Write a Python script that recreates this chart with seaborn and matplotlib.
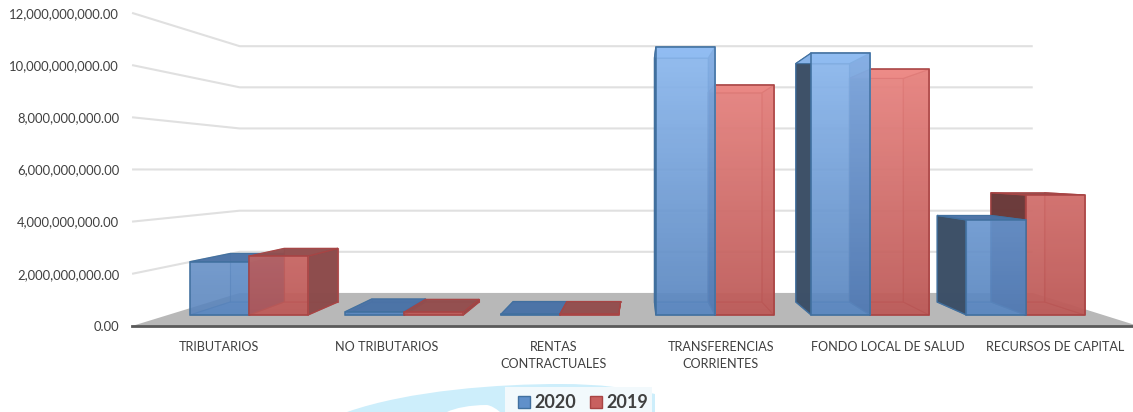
import numpy as np
import pandas as pd
import matplotlib
matplotlib.use("Agg")
import matplotlib.pyplot as plt
import seaborn as sns
from matplotlib.colors import LinearSegmentedColormap
from matplotlib.patches import PathPatch, Rectangle
from matplotlib.path import Path

# datos
categorias = ["TRIBUTARIOS", "NO TRIBUTARIOS", "RENTAS CONTRACTUALES",
              "TRANSFERENCIAS CORRIENTES", "FONDO LOCAL DE SALUD", "RECURSOS DE CAPITAL"]
etiquetas = ["TRIBUTARIOS", "NO TRIBUTARIOS", "RENTAS\nCONTRACTUALES",
             "TRANSFERENCIAS\nCORRIENTES", "FONDO LOCAL DE SALUD", "RECURSOS DE CAPITAL"]
valores_2020 = [2.20e9, 0.14e9, 0.02e9, 11.05e9, 10.80e9, 3.92e9]
valores_2019 = [2.43e9, 0.12e9, 0.02e9, 9.48e9, 10.13e9, 4.95e9]
anios = ["2020", "2019"]
marcas_y = [0, 2e9, 4e9, 6e9, 8e9, 10e9, 12e9]

# geometria: plano frontal de las barras en pixeles de la figura
W, H = 1133, 412
PX_X0, PX_CAT = 249.0, 155.3     # pixel de la categoria 0 y ancho de categoria
PX_Y0, PX_BN = 315.0, 24.25      # pixel del valor 0 y pixeles por 1e9
AX_LEFT, AX_BOTTOM = 124, 326

# punto de fuga y profundidades relativas al plano frontal
XV = (640 - PX_X0) / PX_CAT
VV = (PX_Y0 - 170) / PX_BN * 1e9
S_PISO = 1.076    # borde delantero del piso
S_FONDO = 0.848   # pared del fondo
S_BARRA = 0.91    # cara trasera de las barras
X_IZQ, X_DER = -0.522, 5.50


def proyectar(x, v, s):
    return XV + (np.asarray(x, float) - XV) * s, VV + (np.asarray(v, float) - VV) * s


sns.set_theme(style="white")
plt.rcParams["font.family"] = ["Lato", "DejaVu Sans"]

df = pd.DataFrame({
    "categoria": categorias * 2,
    "anio": [anios[0]] * 6 + [anios[1]] * 6,
    "valor": valores_2020 + valores_2019,
})

fig = plt.figure(figsize=(W / 100, H / 100), dpi=100)
ax = fig.add_axes([AX_LEFT / W, (H - AX_BOTTOM) / H, (W - AX_LEFT) / W, AX_BOTTOM / H])
ax.patch.set_alpha(0)

colores = {"2020": "#6090CA", "2019": "#C8605F"}
sns.barplot(data=df, x="categoria", y="valor", hue="anio", hue_order=anios,
            order=categorias, palette=colores, width=0.76, gap=0, saturation=1,
            ax=ax, errorbar=None)

# estilos de cada serie
estilo = {
    "2020": {"borde": "#41709F", "lado_ext": "#3C4F66", "lado_der": "#34568F", "lado_int": "#34568F", "a_int": 0.8,
             "techo_bajo": "#4A72A6", "techo_alto": "#8DB9F0", "fondo": "#5F8CC4", "a_fondo": 0.6,
             "grad": ["#5A86BF", "#92BEF4"]},
    "2019": {"borde": "#A84444", "lado_ext": "#6A3A3A", "lado_der": "#8A4A4A", "lado_int": "#C46462", "a_int": 0.8,
             "techo_bajo": "#924E4E", "techo_alto": "#EE8E8A", "fondo": "#C46462", "a_fondo": 0.7,
             "grad": ["#BC5A58", "#F28E8A"]},
}
VMAX = max(valores_2020)

# piso y rejilla
px, py = proyectar([X_IZQ, X_DER, X_DER, X_IZQ], [0, 0, 0, 0], [S_PISO, S_PISO, S_FONDO, S_FONDO])
ax.fill(px, py, color="#B8B8B8", lw=0, zorder=1)
for m in marcas_y[1:]:
    gx, gy = proyectar([X_IZQ, X_IZQ, X_DER], [m, m, m], [S_PISO, S_FONDO, S_FONDO])
    ax.plot(gx, gy, color="#E0E0E0", lw=1.5, zorder=0.5, solid_capstyle="butt")

# caras de cada barra, de la mas lejana al punto de fuga a la mas cercana
barras = []
for anio, cont in zip(anios, ax.containers):
    for b in cont:
        barras.append((anio, b))
barras.sort(key=lambda t: -abs(t[1].get_x() + t[1].get_width() / 2 - XV))

for n, (anio, b) in enumerate(barras):
    e = estilo[anio]
    z = 2 + n
    x0, x1, v = b.get_x(), b.get_x() + b.get_width(), b.get_height()

    def cara(xs, vs, ss, color, alpha=1.0, lw=0.8):
        fx, fy = proyectar(xs, vs, ss)
        ax.fill(fx, fy, facecolor=color, edgecolor=e["borde"], alpha=alpha, lw=lw, zorder=z)

    S1, S2 = 1.0, S_BARRA
    cara([x0, x1, x1, x0], [v, v, 0, 0], S2, e["fondo"], e["a_fondo"])
    cara([x0, x1, x1, x0], [0, 0, 0, 0], [S1, S1, S2, S2], e["fondo"], 0.75)
    # cara lateral exterior oscura, la interior queda bajo el frente
    if x0 > XV:
        cara([x0, x0, x0, x0], [0, v, v, 0], [S1, S1, S2, S2], e["lado_ext"], 0.98, 1.0)
        cara([x1, x1, x1, x1], [0, v, v, 0], [S1, S1, S2, S2], e["lado_int"], e["a_int"])
    else:
        cara([x1, x1, x1, x1], [0, v, v, 0], [S1, S1, S2, S2], e["lado_der"], 0.95, 1.0)
        cara([x0, x0, x0, x0], [0, v, v, 0], [S1, S1, S2, S2], e["lado_der"], 0.3)
    techo = e["techo_alto"] if v > VV else e["techo_bajo"]
    cara([x0, x1, x1, x0], [v, v, v, v], [S1, S1, S2, S2], techo, 0.95)

    # frente con degradado recortado a la barra
    cmap = LinearSegmentedColormap.from_list("g" + anio, e["grad"])
    im = ax.imshow(np.linspace(1, 0, 128)[:, None], cmap=cmap, vmin=0, vmax=1,
                   extent=(x0, x1, 0, VMAX), aspect="auto", alpha=0.82, zorder=z + 0.1)
    im.set_clip_path(Rectangle((x0, 0), x1 - x0, v, transform=ax.transData))
    b.set_facecolor("none")
    b.set_edgecolor(e["borde"])
    b.set_linewidth(1.1)
    b.set_zorder(z + 0.2)

# ejes
ax.set_xlim((AX_LEFT - PX_X0) / PX_CAT, (W - PX_X0) / PX_CAT)
ax.set_ylim(-(AX_BOTTOM - PX_Y0) / PX_BN * 1e9, PX_Y0 / PX_BN * 1e9)
ax.set_xlabel("")
ax.set_ylabel("")
sns.despine(ax=ax, left=True)

tx, _ = proyectar(np.arange(6), np.zeros(6), S_PISO)
ax.set_xticks(tx)
ax.set_xticklabels(etiquetas, fontsize=9.1, color="#404040", linespacing=1.5)
_, ty = proyectar(np.zeros(7), marcas_y, S_PISO)
ax.set_yticks(ty)
ax.set_yticklabels([f"{m:,.2f}" for m in marcas_y], fontsize=9.4, color="#404040")
ax.tick_params(axis="x", length=0, pad=10.5)
ax.tick_params(axis="y", length=0, pad=3.5)
izq, _ = proyectar(X_IZQ, 0, S_PISO)
ax.spines["bottom"].set_bounds(izq, ax.get_xlim()[1])
ax.spines["bottom"].set_color("#5A5A5A")
ax.spines["bottom"].set_linewidth(2)
ax.spines["bottom"].set_zorder(20)


def a_fig(puntos):
    return [(x / W, 1 - y / H) for x, y in puntos]


# mancha celeste del fondo y caja clara de la leyenda
verts = [(347, 412), (410, 390), (500, 384), (560, 384), (600, 384), (630, 388), (655, 394),
         (655, 412), (500, 412), (495, 408), (492, 406), (487, 405), (470, 405), (455, 408), (447, 412),
         (347, 412)]
codes = [Path.MOVETO, Path.CURVE4, Path.CURVE4, Path.CURVE4, Path.CURVE4, Path.CURVE4, Path.CURVE4,
         Path.LINETO, Path.LINETO, Path.CURVE4, Path.CURVE4, Path.CURVE4, Path.CURVE4, Path.CURVE4, Path.CURVE4,
         Path.LINETO]
fig.add_artist(PathPatch(Path(a_fig(verts), codes), transform=fig.transFigure,
                         facecolor="#CDEEFB", edgecolor="none", zorder=-2))
fig.add_artist(Rectangle((505 / W, 0), 147 / W, 25 / H, transform=fig.transFigure,
                         facecolor="#F2F9FC", edgecolor="none", zorder=-1))

handles, labels = ax.get_legend_handles_labels()
for h, a in zip(handles, labels):
    h.set_edgecolor(estilo[a]["borde"])
leg = ax.legend(handles, labels, loc="center", bbox_to_anchor=(583 / W, 1 - 402.5 / H),
                bbox_transform=fig.transFigure, ncol=2, frameon=False,
                borderpad=0, columnspacing=0.72, handlelength=0.67,
                handleheight=0.67, handletextpad=0.24, prop={"size": 13, "weight": "bold"})
for t in leg.get_texts():
    t.set_color("#404040")

fig.savefig("out.png", dpi=100)
